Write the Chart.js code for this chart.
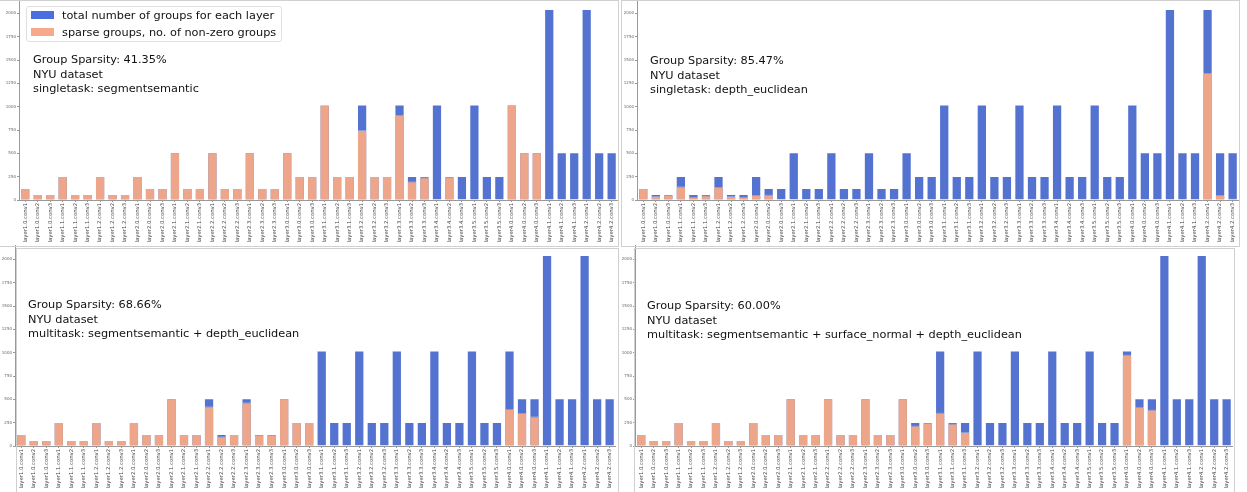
<!DOCTYPE html>
<html>
<head>
<meta charset="utf-8">
<script src="https://cdn.jsdelivr.net/npm/chart.js@4.4.1/dist/chart.umd.min.js"></script>
<style>
  body { margin: 0; background: #fff; width: 1247px; height: 492px; overflow: hidden; position: relative; font-family: "DejaVu Sans", sans-serif; }
  canvas { position: absolute; }
  .note { position: absolute; font-size: 11.3px; line-height: 14.5px; color: #111; white-space: nowrap; }
  .frame { position: absolute; border: 1px solid #d0d0d0; box-sizing: border-box; pointer-events: none; }
  .legend { position: absolute; left: 26px; top: 6px; width: 256px; height: 36px; border: 1px solid #e0e0e0; border-radius: 3px; background: rgba(255,255,255,0.85); box-sizing: border-box; }
  .legend .patch { position: absolute; left: 4px; width: 23px; height: 8px; }
  .legend .txt { position: absolute; left: 35px; font-size: 11.3px; line-height: 14px; color: #111; white-space: nowrap; }
</style>
</head>
<body>
<canvas id="c1" width="619" height="250" style="left:0px;top:-4px;width:619px;height:250px"></canvas>
<canvas id="c2" width="618" height="250" style="left:622px;top:-4px;width:618px;height:250px"></canvas>
<canvas id="c3" width="617" height="250" style="left:0px;top:242px;width:617px;height:250px"></canvas>
<canvas id="c4" width="614" height="250" style="left:620px;top:242px;width:614px;height:250px"></canvas>

<div class="frame" style="left:-1px;top:0px;width:620px;height:247px"></div>
<div class="frame" style="left:621px;top:0px;width:619px;height:247px"></div>
<div class="frame" style="left:16px;top:248px;width:603px;height:250px"></div>
<div class="frame" style="left:634px;top:248px;width:601px;height:250px"></div>

<div class="legend">
  <div class="patch" style="top:4px;background:#4a6ee0"></div>
  <div class="txt" style="top:2px">total number of groups for each layer</div>
  <div class="patch" style="top:21px;background:#f6a98b"></div>
  <div class="txt" style="top:19px">sparse groups, no. of non-zero groups</div>
</div>

<div id="n1" class="note" style="left:33px;top:53px"></div>
<div id="n2" class="note" style="left:650px;top:54px"></div>
<div id="n3" class="note" style="left:28px;top:298px"></div>
<div id="n4" class="note" style="left:647px;top:299px"></div>

<script>
const layerNames = [
  "layer1.0.conv1", "layer1.0.conv2", "layer1.0.conv3",
  "layer1.1.conv1", "layer1.1.conv2", "layer1.1.conv3",
  "layer1.2.conv1", "layer1.2.conv2", "layer1.2.conv3",
  "layer2.0.conv1", "layer2.0.conv2", "layer2.0.conv3",
  "layer2.1.conv1", "layer2.1.conv2", "layer2.1.conv3",
  "layer2.2.conv1", "layer2.2.conv2", "layer2.2.conv3",
  "layer2.3.conv1", "layer2.3.conv2", "layer2.3.conv3",
  "layer3.0.conv1", "layer3.0.conv2", "layer3.0.conv3",
  "layer3.1.conv1", "layer3.1.conv2", "layer3.1.conv3",
  "layer3.2.conv1", "layer3.2.conv2", "layer3.2.conv3",
  "layer3.3.conv1", "layer3.3.conv2", "layer3.3.conv3",
  "layer3.4.conv1", "layer3.4.conv2", "layer3.4.conv3",
  "layer3.5.conv1", "layer3.5.conv2", "layer3.5.conv3",
  "layer4.0.conv1", "layer4.0.conv2", "layer4.0.conv3",
  "layer4.1.conv1", "layer4.1.conv2", "layer4.1.conv3",
  "layer4.2.conv1", "layer4.2.conv2", "layer4.2.conv3"
];

// total groups per layer (same for all four runs)
const totalGroups = [
  128, 64, 64, 256, 64, 64, 256, 64, 64,
  256, 128, 128, 512, 128, 128, 512, 128, 128, 512, 128, 128,
  512, 256, 256, 1024, 256, 256, 1024, 256, 256, 1024, 256, 256, 1024, 256, 256, 1024, 256, 256,
  1024, 512, 512, 2048, 512, 512, 2048, 512, 512
];

// non-zero groups
const nonZeroSeg = [
  128, 64, 64, 256, 64, 64, 256, 64, 64,
  256, 128, 128, 512, 128, 128, 512, 128, 128, 512, 128, 128,
  512, 256, 256, 1018, 256, 256, 750, 256, 256, 910, 200, 245, 0, 250, 0, 0, 0, 0,
  1024, 512, 512, 0, 0, 0, 0, 0, 0
];
const nonZeroDepth = [
  128, 43, 57, 148, 36, 50, 140, 43, 36,
  54, 58, 8, 0, 0, 0, 0, 0, 0, 0, 0, 0,
  0, 0, 0, 0, 0, 0, 0, 0, 0, 0, 0, 0, 0, 0, 0, 0, 0, 0,
  0, 0, 0, 0, 0, 0, 1360, 54, 15
];
const nonZeroSegDepth = [
  128, 64, 64, 256, 64, 64, 256, 64, 64,
  256, 128, 128, 512, 128, 128, 425, 105, 128, 470, 122, 122,
  512, 256, 256, 0, 0, 0, 0, 0, 0, 0, 0, 0, 0, 0, 0, 0, 0, 0,
  400, 357, 318, 0, 0, 0, 0, 0, 0
];
const nonZeroSegNormDepth = [
  128, 64, 64, 256, 64, 64, 256, 64, 64,
  256, 128, 128, 512, 128, 128, 512, 128, 128, 512, 128, 128,
  512, 220, 250, 360, 240, 150, 0, 0, 0, 0, 0, 0, 0, 0, 0, 0, 0, 0,
  980, 420, 390, 0, 0, 0, 0, 0, 0
];

const yTicks = [0, 250, 500, 750, 1000, 1250, 1500, 1750, 2000];
const yMax = 2150;

const notes1 = ["Group Sparsity: 41.35%", "NYU dataset", "singletask: segmentsemantic"];
const notes2 = ["Group Sparsity: 85.47%", "NYU dataset", "singletask: depth_euclidean"];
const notes3 = ["Group Sparsity: 68.66%", "NYU dataset", "multitask: segmentsemantic + depth_euclidean"];
const notes4 = ["Group Sparsity: 60.00%", "NYU dataset", "multitask: segmentsemantic + surface_normal + depth_euclidean"];

const blue = "#5473d0";
const orange = "#eea68a";

function drawPanel(id, nonZero, yWidth) {
  new Chart(document.getElementById(id), {
    type: "bar",
    data: {
      labels: layerNames,
      datasets: [
        {
          label: "sparse groups, no. of non-zero groups",
          data: nonZero,
          backgroundColor: orange,
          borderColor: "rgba(255,255,255,0.3)",
          borderWidth: 1,
          barPercentage: 0.82,
          categoryPercentage: 1.0,
          order: 1,
        },
        {
          label: "total number of groups for each layer",
          data: totalGroups,
          backgroundColor: blue,
          borderColor: "rgba(255,255,255,0.3)",
          borderWidth: 1,
          barPercentage: 0.82,
          categoryPercentage: 1.0,
          order: 2,
        },
      ],
    },
    options: {
      responsive: false,
      animation: false,
      devicePixelRatio: 1,
      layout: { padding: 0 },
      plugins: {
        legend: { display: false },
        tooltip: { enabled: false },
      },
      scales: {
        x: {
          stacked: true,
          offset: true,
          grid: { display: true, drawOnChartArea: false, offset: false, tickLength: 2, color: "#999" },
          border: { color: "#999" },
          ticks: {
            autoSkip: false,
            minRotation: 90,
            maxRotation: 90,
            padding: 1,
            color: "#444",
            font: { family: "DejaVu Sans", size: 5.3 },
          },
          afterFit: (s) => { s.height = 46; },
        },
        y: {
          stacked: false,
          min: 0,
          max: yMax,
          afterBuildTicks: (s) => { s.ticks = yTicks.map((v) => ({ value: v })); },
          grid: { display: true, drawOnChartArea: false, tickLength: 2, color: "#999" },
          border: { color: "#999" },
          ticks: {
            padding: 1,
            color: "#666",
            font: { family: "DejaVu Sans", size: 4 },
            callback: (v) => String(v),
          },
          afterFit: (s) => { s.width = yWidth; },
        },
      },
    },
  });
}

function writeNotes(id, lines) {
  const box = document.getElementById(id);
  box.innerHTML = lines.map((t) => "<div>" + t + "</div>").join("");
}

drawPanel("c1", nonZeroSeg, 19);
drawPanel("c2", nonZeroDepth, 15);
drawPanel("c3", nonZeroSegDepth, 15);
drawPanel("c4", nonZeroSegNormDepth, 15);

writeNotes("n1", notes1);
writeNotes("n2", notes2);
writeNotes("n3", notes3);
writeNotes("n4", notes4);
</script>
</body>
</html>
